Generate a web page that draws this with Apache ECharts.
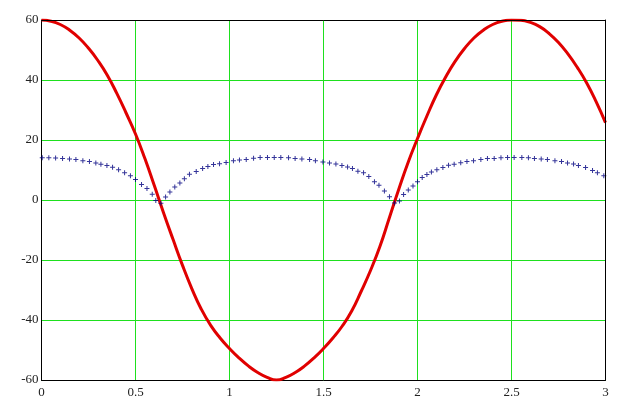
<!DOCTYPE html>
<html>
<head>
<meta charset="utf-8">
<script src="https://cdn.jsdelivr.net/npm/echarts@6/dist/echarts.min.js"></script>
<style>
html,body{margin:0;padding:0;background:#fff;}
#chart{width:629px;height:418px;}
</style>
</head>
<body>
<div id="chart"></div>
<script>
// Red curve: t values and amplitudes
var redT = [0,0.05,0.1,0.15,0.2,0.25,0.3,0.35,0.4,0.45,0.5,0.55,0.6,0.65,0.7,0.75,0.8,0.85,0.9,0.95,1.0,1.05,1.1,1.15,1.2,1.25,
  1.3,1.35,1.4,1.45,1.5,1.55,1.6,1.65,1.7,1.75,1.8,1.85,1.9,1.95,2.0,2.05,2.1,2.15,2.2,2.25,2.3,2.35,2.4,2.45,2.5,
  2.55,2.6,2.65,2.7,2.75,2.8,2.85,2.9,2.95,3.0];
var redV = [60,59.6,58.5,56.6,54,50.6,46.5,41.6,35.6,29,22,13.8,4.8,-4.4,-13.2,-21.8,-29.6,-36.4,-41.8,-46.0,-49.5,-52.6,-55.3,-57.5,-59.1,-60,
  -59.1,-57.5,-55.3,-52.6,-49.5,-46.0,-42.0,-37,-30.5,-23.5,-15.5,-6,3.5,12.5,20.5,28,35,41,46.2,50.5,54,56.6,58.5,59.6,60,
  59.9,59.2,57.8,55.5,52.5,48.7,44.2,39,32.8,25.8];

// Blue dotted points: positions and values
var blueT = [0.004,0.039,0.075,0.112,0.149,0.183,0.220,0.255,0.289,0.316,0.348,0.378,0.410,0.442,0.473,0.500,0.532,0.561,0.589,0.608,0.635,0.660,0.683,0.709,0.736,0.760,
  0.787,0.823,0.857,0.885,0.915,0.947,0.982,1.021,1.053,1.089,1.128,1.163,1.202,1.238,1.273,1.314,1.349,1.385,1.426,1.457,1.497,
  1.532,1.566,1.598,1.628,1.654,1.683,1.713,1.741,1.771,1.795,1.824,1.851,1.878,1.904,1.926,1.951,1.976,2.000,2.025,2.050,2.074,2.103,2.135,2.165,2.195,2.230,
  2.263,2.298,2.337,2.372,2.408,2.444,2.479,2.514,2.555,2.590,2.622,2.658,2.691,2.731,2.766,2.798,2.830,2.856,2.894,2.931,2.957,2.991];
var blueV = [14.1,14.1,14.0,13.8,13.7,13.5,13.1,12.8,12.3,11.9,11.5,10.9,10.1,9.1,8.1,6.8,5.2,3.8,1.9,-0.2,-1.1,1.0,2.7,4.3,5.7,7.1,
  8.6,9.5,10.5,11.2,11.8,12.1,12.5,13.1,13.3,13.5,13.9,14.2,14.2,14.2,14.2,14.1,13.8,13.7,13.5,13.1,12.7,
  12.3,12.0,11.5,11.0,10.5,9.6,9.1,7.8,6.1,4.9,3.0,1.1,-1.0,-0.3,1.8,3.3,4.7,6.1,7.5,8.5,9.3,10.1,10.8,11.6,11.9,12.4,
  12.8,13.1,13.5,13.8,13.8,14.1,14.2,14.2,14.2,14.1,13.8,13.7,13.5,13.1,12.8,12.3,12.0,11.5,10.8,9.8,9.1,8.1];

var xTicks = [0,0.5,1,1.5,2,2.5,3];
var yTicks = [-60,-40,-20,0,20,40,60];

var redData = redT.map(function(t,i){return [t, redV[i]];});
var blueData = blueT.map(function(t,i){return [t, blueV[i]];});

var chart = echarts.init(document.getElementById('chart'), null, {renderer:'canvas'});
var labelFont = {fontFamily:'Liberation Serif', fontSize:13, color:'#222'};
var gridGreen = '#1ee01e';
var xMin = xTicks[0], xMax = xTicks[xTicks.length-1];
var yMin = yTicks[0], yMax = yTicks[yTicks.length-1];
chart.setOption({
  animation:false,
  backgroundColor:'#ffffff',
  grid:{left:41.5, right:23.5, top:20, bottom:38},
  xAxis:[{
    type:'value', min:xMin, max:xMax, interval:0.5, position:'bottom',
    axisLine:{show:true, onZero:false, lineStyle:{color:'#000', width:1}}, axisTick:{show:false},
    axisLabel:Object.assign({margin:6, formatter:function(v){return String(v);}}, labelFont),
    splitLine:{show:true, lineStyle:{color:gridGreen, width:1}}, z:1
  },{
    type:'value', min:xMin, max:xMax, interval:0.5, position:'top',
    axisLine:{show:true, onZero:false, lineStyle:{color:'#000', width:1}}, axisTick:{show:false},
    axisLabel:{show:false}, splitLine:{show:false}, z:5
  }],
  yAxis:[{
    type:'value', min:yMin, max:yMax, interval:20, position:'left',
    axisLine:{show:true, onZero:false, lineStyle:{color:'#000', width:1}}, axisTick:{show:false},
    axisLabel:Object.assign({margin:3}, labelFont),
    splitLine:{show:true, lineStyle:{color:gridGreen, width:1}}, z:1
  },{
    type:'value', min:yMin, max:yMax, interval:20, position:'right',
    axisLine:{show:true, onZero:false, lineStyle:{color:'#000', width:1}}, axisTick:{show:false},
    axisLabel:{show:false}, splitLine:{show:false}, z:5
  }],
  series:[
    {type:'line', data:redData, smooth:0.5, showSymbol:false, symbol:'none',
     lineStyle:{color:'#e00000', width:3}, z:3},
    {type:'scatter', data:blueData, symbol:'path://M2,0H3V2H5V3H3V5H2V3H0V2H2Z', symbolSize:5,
     itemStyle:{color:'#000080'}, z:4}
  ]
});
</script>
</body>
</html>
